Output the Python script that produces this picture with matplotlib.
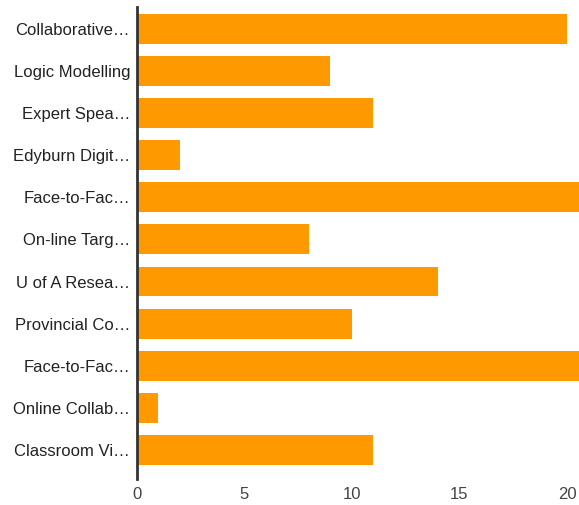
import matplotlib.pyplot as plt

plt.rcParams["font.family"] = ["Liberation Sans", "DejaVu Sans"]

labels = [
    "Collaborative…",
    "Logic Modelling",
    "Expert Spea…",
    "Edyburn Digit…",
    "Face-to-Fac…",
    "On-line Targ…",
    "U of A Resea…",
    "Provincial Co…",
    "Face-to-Fac…",
    "Online Collab…",
    "Classroom Vi…",
]
values = [20, 9, 11, 2, 22, 8, 14, 10, 22, 1, 11]
xticks = [0, 5, 10, 15, 20]

fig = plt.figure(figsize=(5.79, 5.05), dpi=100)
ax = fig.add_axes([137 / 579, 1 - 479 / 505, 1 - 137 / 579, 472 / 505])

pos = list(range(len(labels)))
ax.barh(pos, values, height=0.71, color="#ff9900", edgecolor="none")

ax.set_xlim(0, 20.56)
ax.set_ylim(10.69, -0.52)
ax.set_yticks(pos)
ax.set_yticklabels(labels, fontsize=12, color="#222222")
ax.set_xticks(xticks)
ax.set_xticklabels([str(t) for t in xticks], fontsize=12, color="#444444")
ax.tick_params(axis="both", length=0)
ax.tick_params(axis="y", pad=5)
ax.tick_params(axis="x", pad=6)

for side in ["top", "right", "bottom"]:
    ax.spines[side].set_visible(False)
ax.spines["left"].set_color("#333333")
ax.spines["left"].set_linewidth(2)

fig.savefig("out.png", dpi=100)
